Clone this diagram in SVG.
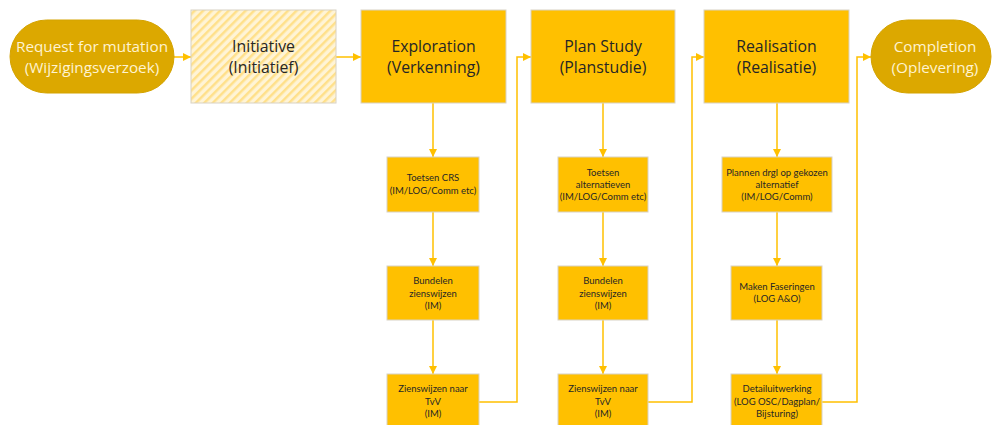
<svg xmlns="http://www.w3.org/2000/svg" width="993" height="425" viewBox="0 0 993 425">
<defs>
<marker id="ah" viewBox="0 0 10 10" refX="10" refY="5" markerWidth="8" markerHeight="8" markerUnits="userSpaceOnUse" orient="auto">
<path d="M0,0 L10,5 L0,10 z" fill="#FFC000"/>
</marker>
<pattern id="hatch" width="6" height="6" patternUnits="userSpaceOnUse" patternTransform="rotate(45)">
<rect width="6" height="6" fill="#FFF4D6"/>
<rect width="2.5" height="6" fill="#FFE08A"/>
</pattern>
</defs>
<style>
.box{fill:#FFC000;stroke:#D8D2C4;stroke-width:1}
.oval{fill:#DCA800;stroke:#D4A300;stroke-width:1}
.big{font-family:"Open Sans","Noto Sans",sans-serif;font-size:15.8px;fill:#262626;text-anchor:middle}
.ovt{font-family:"Open Sans","Noto Sans",sans-serif;font-size:15.3px;fill:#FFF3D0;text-anchor:middle}
.sm{font-family:"Lato","Open Sans",sans-serif;font-size:9.5px;fill:#262626;text-anchor:middle}
.ln{fill:none;stroke:#FFC000;stroke-width:1.5;marker-end:url(#ah)}
</style>
<rect width="993" height="425" fill="#FFFFFF"/>
<g id="connectors">
<path class="ln" d="M174,57 L191,57"/>
<path class="ln" d="M336,57 L361,57"/>
<path class="ln" d="M433,103 L433,157"/>
<path class="ln" d="M433,212 L433,266"/>
<path class="ln" d="M433,320 L433,374"/>
<path class="ln" d="M479,402 L517,402 L517,57 L531,57"/>
<path class="ln" d="M603,103 L603,157"/>
<path class="ln" d="M603,212 L603,266"/>
<path class="ln" d="M603,320 L603,374"/>
<path class="ln" d="M648,402 L692,402 L692,57 L704,57"/>
<path class="ln" d="M777,103 L777,157"/>
<path class="ln" d="M777,212 L777,266"/>
<path class="ln" d="M777,320 L777,374"/>
<path class="ln" d="M822,402 L857,402 L857,57 L871,57"/>
</g>
<g id="request">
<rect class="oval" x="10" y="20" width="164" height="73" rx="36.5"/>
<text class="ovt" x="92" y="52">Request for mutation</text>
<text class="ovt" x="92" y="73">(Wijzigingsverzoek)</text>
</g>
<g id="initiative">
<rect x="191" y="10" width="145" height="93" fill="url(#hatch)" stroke="#D8D2C4" stroke-width="1"/>
<text class="big" x="263.5" y="52">Initiative</text>
<text class="big" x="263.5" y="73">(Initiatief)</text>
</g>
<g id="exploration">
<rect class="box" x="361" y="10" width="145" height="93"/>
<text class="big" x="433.5" y="52">Exploration</text>
<text class="big" x="433.5" y="73">(Verkenning)</text>
</g>
<g id="planstudy">
<rect class="box" x="531" y="10" width="144" height="93"/>
<text class="big" x="603" y="52">Plan Study</text>
<text class="big" x="603" y="73">(Planstudie)</text>
</g>
<g id="realisation">
<rect class="box" x="704" y="10" width="145" height="93"/>
<text class="big" x="776.5" y="52">Realisation</text>
<text class="big" x="776.5" y="73">(Realisatie)</text>
</g>
<g id="completion">
<rect class="oval" x="871" y="20" width="120" height="73" rx="36.5"/>
<text class="ovt" x="935" y="52">Completion</text>
<text class="ovt" x="935" y="73">(Oplevering)</text>
</g>
<g id="toetsen-crs">
<rect class="box" x="387" y="157" width="92" height="55"/>
<text class="sm" x="433" y="181">Toetsen CRS</text>
<text class="sm" x="433" y="194">(IM/LOG/Comm etc)</text>
</g>
<g id="bundelen-1">
<rect class="box" x="387" y="266" width="92" height="54"/>
<text class="sm" x="433" y="284">Bundelen</text>
<text class="sm" x="433" y="297">zienswijzen</text>
<text class="sm" x="433" y="309">(IM)</text>
</g>
<g id="zienswijzen-1">
<rect class="box" x="387" y="374" width="92" height="60"/>
<text class="sm" x="433" y="392">Zienswijzen naar</text>
<text class="sm" x="433" y="405">TvV</text>
<text class="sm" x="433" y="417">(IM)</text>
</g>
<g id="toetsen-alt">
<rect class="box" x="558" y="157" width="90" height="55"/>
<text class="sm" x="603" y="176">Toetsen</text>
<text class="sm" x="603" y="188">alternatieven</text>
<text class="sm" x="603" y="200">(IM/LOG/Comm etc)</text>
</g>
<g id="bundelen-2">
<rect class="box" x="558" y="266" width="90" height="54"/>
<text class="sm" x="603" y="284">Bundelen</text>
<text class="sm" x="603" y="297">zienswijzen</text>
<text class="sm" x="603" y="309">(IM)</text>
</g>
<g id="zienswijzen-2">
<rect class="box" x="558" y="374" width="90" height="60"/>
<text class="sm" x="603" y="392">Zienswijzen naar</text>
<text class="sm" x="603" y="405">TvV</text>
<text class="sm" x="603" y="417">(IM)</text>
</g>
<g id="plannen">
<rect class="box" x="722" y="157" width="110" height="55"/>
<text class="sm" x="777" y="176">Plannen drgl op gekozen</text>
<text class="sm" x="777" y="188">alternatief</text>
<text class="sm" x="777" y="200">(IM/LOG/Comm)</text>
</g>
<g id="maken">
<rect class="box" x="731" y="266" width="91" height="54"/>
<text class="sm" x="777" y="290">Maken Faseringen</text>
<text class="sm" x="777" y="302">(LOG A&amp;O)</text>
</g>
<g id="detail">
<rect class="box" x="731" y="374" width="91" height="60"/>
<text class="sm" x="777" y="392">Detailuitwerking</text>
<text class="sm" x="777" y="405">(LOG OSC/Dagplan/</text>
<text class="sm" x="777" y="417">Bijsturing)</text>
</g>
</svg>
